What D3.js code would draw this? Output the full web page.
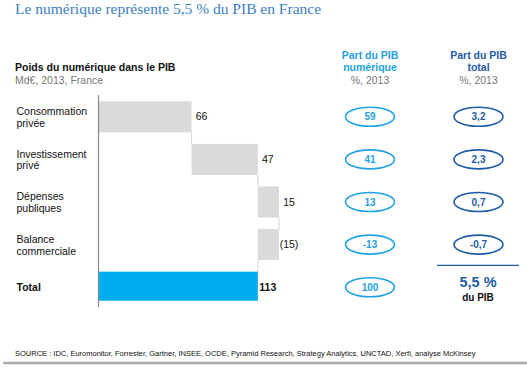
<!DOCTYPE html>
<html>
<head>
<meta charset="utf-8">
<script src="https://cdn.jsdelivr.net/npm/d3@7"></script>
<style>
  body { margin: 0; background: #fff; }
  text { font-family: "Liberation Sans", Arial, sans-serif; }
</style>
</head>
<body>
<svg width="527" height="377"></svg>
<script>
// data
var categories = [["Consommation", "privée"], ["Investissement", "privé"], ["Dépenses", "publiques"], ["Balance", "commerciale"], ["Total"]];
var values = [66, 47, 15, -15];
var total = 113;
var valueLabels = ["66", "47", "15", "(15)", "113"];
var partNumerique = ["59", "41", "13", "-13", "100"];
var partTotal = ["3,2", "2,3", "0,7", "-0,7"];
var pibShare = "5,5 %";

var svg = d3.select("svg");
var keys = d3.range(categories.length);

// colours
var grey = "#dadada";
var cyan = "#00aeef";
var lightBlue = "#1ea2e2";
var darkBlue = "#1f5ca8";

var x = d3.scaleLinear().domain([0, 128]).range([98.5, 279]);
var y = d3.scaleBand().domain(keys).range([95.5, 308.5]).paddingInner(0.27).paddingOuter(0.135);

// title
svg.append("text")
    .attr("x", 15).attr("y", 13.5)
    .style("font-family", "'Liberation Serif', serif")
    .style("font-size", "15.5px")
    .attr("fill", "#3a80c3")
    .text("Le numérique représente 5,5 % du PIB en France");

// left header
svg.append("text").attr("x", 15).attr("y", 70.5)
    .style("font-size", "10.5px").style("font-weight", "bold").attr("fill", "#111")
    .text("Poids du numérique dans le PIB");
svg.append("text").attr("x", 15).attr("y", 83.5)
    .style("font-size", "10.5px").attr("fill", "#777")
    .text("Md€, 2013, France");

// column headers
function colHeader(cx, color, lines) {
    lines.forEach(function (l, i) {
        svg.append("text").attr("x", cx).attr("y", 59 + i * 12.2)
            .attr("text-anchor", "middle")
            .style("font-size", "10.5px").style("font-weight", "bold")
            .attr("fill", color).text(l);
    });
    svg.append("text").attr("x", cx).attr("y", 83.5)
        .attr("text-anchor", "middle")
        .style("font-size", "10.5px").attr("fill", "#777").text("%, 2013");
}
colHeader(370, lightBlue, ["Part du PIB", "numérique"]);
colHeader(478.5, darkBlue, ["Part du PIB", "total"]);

// waterfall segments
var running = 0;
var segs = values.map(function (v, i) {
    var s = running;
    running += v;
    return { i: i, start: s, end: running };
});
segs.push({ i: 4, start: 0, end: total, total: true });

var yc = function (i) { return y(i) + y.bandwidth() / 2; };

// connectors
var conn = svg.append("g").attr("stroke", "#c8c8c8").attr("stroke-width", 0.8);
segs.slice(0, -1).forEach(function (d, k) {
    var next = segs[k + 1];
    conn.append("line")
        .attr("x1", x(d.end)).attr("x2", x(d.end))
        .attr("y1", y(d.i) + y.bandwidth()).attr("y2", y(next.i));
});

svg.append("g").selectAll("rect")
    .data(segs)
    .enter().append("rect")
    .attr("x", function (d) { return x(Math.min(d.start, d.end)); })
    .attr("width", function (d) { return Math.abs(x(d.end) - x(d.start)); })
    .attr("y", function (d) { return y(d.i); })
    .attr("height", function (d) { return d.total ? y.bandwidth() - 2 : y.bandwidth(); })
    .attr("fill", function (d) { return d.total ? cyan : grey; });

// axis line
svg.append("line")
    .attr("x1", x(0)).attr("x2", x(0))
    .attr("y1", 95).attr("y2", 307)
    .attr("stroke", "#888").attr("stroke-width", 1.2);

// value labels
svg.append("g").selectAll("text")
    .data(segs)
    .enter().append("text")
    .attr("x", function (d) { return x(Math.max(d.start, d.end)) + 10; })
    .attr("y", function (d) { return yc(d.i); })
    .attr("dy", "0.35em")
    .attr("text-anchor", "middle")
    .style("font-size", "10.5px")
    .style("font-weight", function (d) { return d.total ? "bold" : "normal"; })
    .attr("fill", "#111")
    .text(function (d, i) { return valueLabels[i]; });

// category labels
categories.forEach(function (lines, i) {
    var c = yc(i);
    var t = svg.append("text").attr("x", 16.5)
        .style("font-size", "10.5px")
        .style("font-weight", lines.length === 1 ? "bold" : "normal")
        .attr("fill", "#111");
    if (lines.length === 1) {
        t.attr("y", c + 3.5).text(lines[0]);
    } else {
        lines.forEach(function (l, j) {
            t.append("tspan").attr("x", 16.5).attr("y", c - 1.8 + j * 11.8).text(l);
        });
    }
});

// ellipses
function ovals(cx, color, labels) {
    var g = svg.append("g");
    labels.forEach(function (l, i) {
        g.append("ellipse")
            .attr("cx", cx).attr("cy", yc(i))
            .attr("rx", 24.5).attr("ry", 9.5)
            .attr("fill", "#fff").attr("stroke", color).attr("stroke-width", 1.6);
        g.append("text")
            .attr("x", cx).attr("y", yc(i)).attr("dy", "0.36em")
            .attr("text-anchor", "middle")
            .style("font-size", "10px").style("font-weight", "bold")
            .attr("fill", color).text(l);
    });
}
ovals(370, lightBlue, partNumerique);
ovals(478.5, darkBlue, partTotal);

// total share
svg.append("line")
    .attr("x1", 437).attr("x2", 519)
    .attr("y1", 265.3).attr("y2", 265.3)
    .attr("stroke", darkBlue).attr("stroke-width", 1.2);
svg.append("text").attr("x", 478).attr("y", 286.5)
    .attr("text-anchor", "middle")
    .style("font-size", "14.5px").style("font-weight", "bold")
    .attr("fill", darkBlue).text(pibShare);
svg.append("text").attr("x", 478).attr("y", 300.5)
    .attr("text-anchor", "middle")
    .style("font-size", "10px").style("font-weight", "bold")
    .attr("fill", "#111").text("du PIB");

// source
svg.append("text").attr("x", 15).attr("y", 355.5)
    .style("font-size", "7.5px").attr("fill", "#111")
    .text("SOURCE : IDC, Euromonitor, Forrester, Gartner, INSEE, OCDE, Pyramid Research, Strategy Analytics, UNCTAD, Xerfi, analyse McKinsey");
svg.append("line")
    .attr("x1", 3).attr("x2", 527)
    .attr("y1", 363).attr("y2", 363)
    .attr("stroke", "#aaa").attr("stroke-width", 2.5);
</script>
</body>
</html>
